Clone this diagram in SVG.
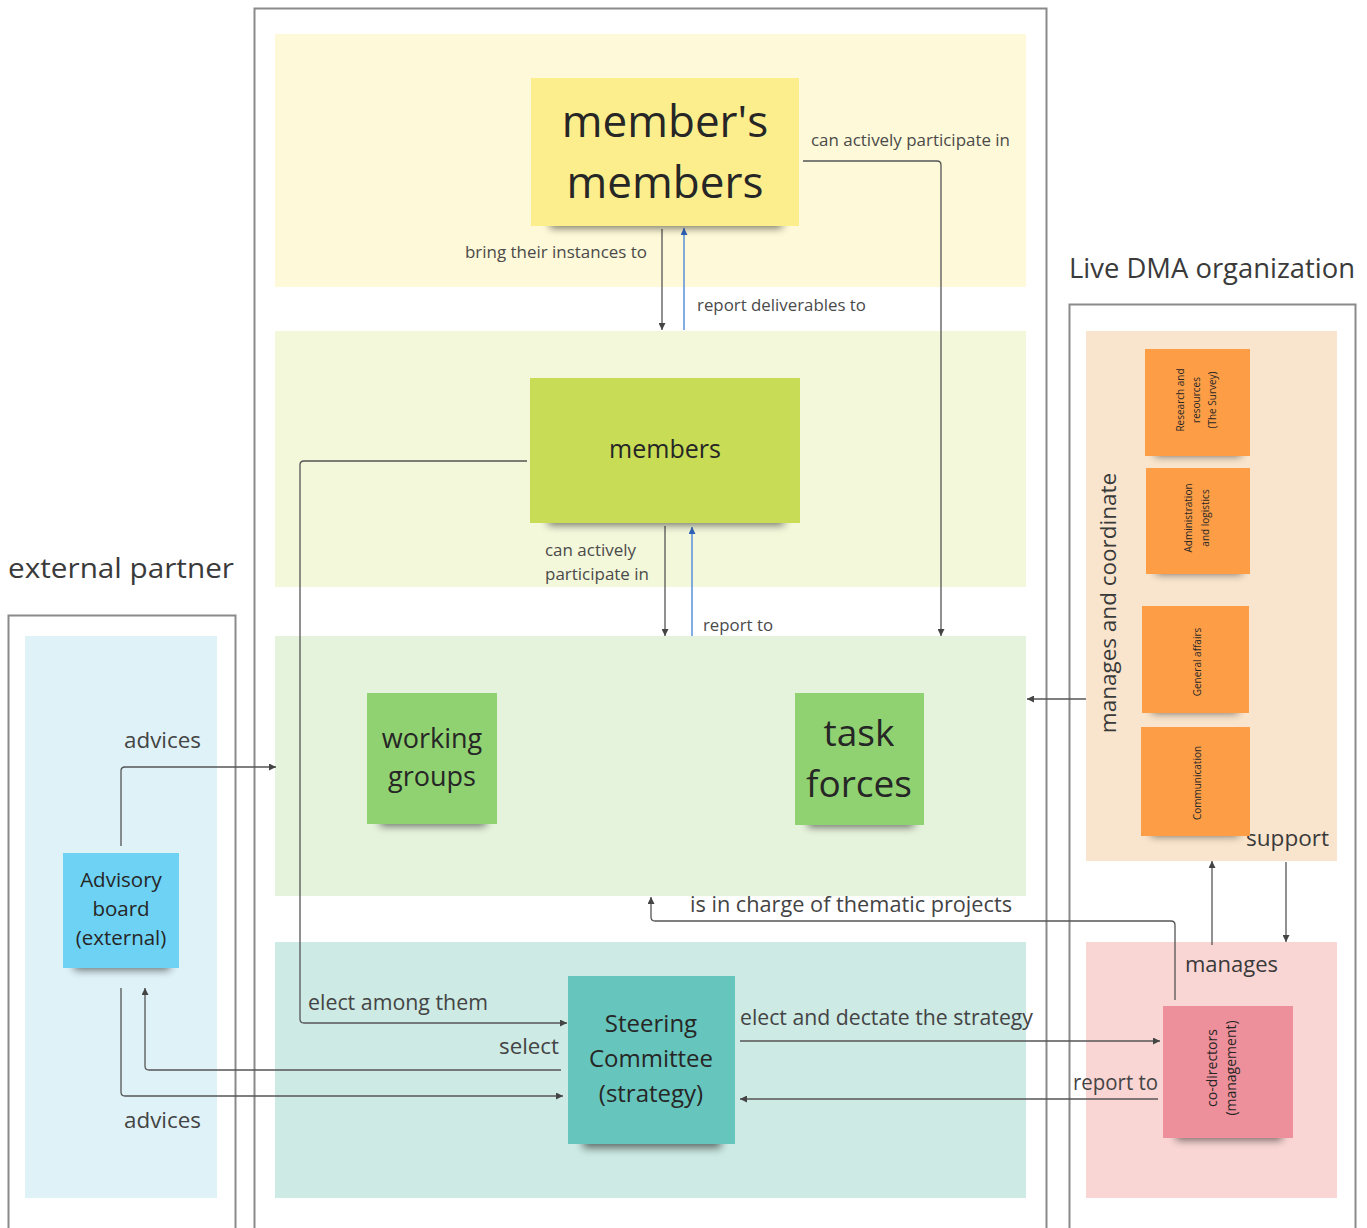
<svg xmlns="http://www.w3.org/2000/svg" width="1367" height="1228" viewBox="0 0 1367 1228">
  <style>
    text { font-family: "Open Sans", "Noto Sans", "DejaVu Sans", sans-serif; fill: #3a3a3a; }
    .frame { fill: none; stroke: #8a8a8a; stroke-width: 2; }
    .conn { fill: none; stroke: #555; stroke-width: 1.3; }
    .blue { fill: none; stroke: #5b8fd8; stroke-width: 1.5; }
    .lbl { font-size: 15.5px; fill: #4a4a4a; }
    .lbl2 { font-size: 21.5px; fill: #444; }
    .sticky-text { fill: #262626; text-anchor: middle; }
    .shadow { fill: #000; opacity: 0.55; filter: url(#blur); }
  </style>
  <defs>
    <filter id="blur" x="-20%" y="-100%" width="140%" height="300%">
      <feGaussianBlur stdDeviation="4"/>
    </filter>
    <marker id="arr" viewBox="0 0 10 10" refX="10" refY="5" markerWidth="7" markerHeight="7" markerUnits="userSpaceOnUse" orient="auto">
      <path d="M0,0 L10,5 L0,10 z" fill="#444"/>
    </marker>
    <marker id="arrb" viewBox="0 0 10 10" refX="10" refY="5" markerWidth="7" markerHeight="7" markerUnits="userSpaceOnUse" orient="auto">
      <path d="M0,0 L10,5 L0,10 z" fill="#2f63b8"/>
    </marker>
  </defs>

  <rect width="1367" height="1228" fill="#ffffff"/>

  <!-- frames -->
  <g id="frames">
    <rect class="frame" x="254.5" y="8.5" width="792" height="1260"/>
    <rect class="frame" x="8.5" y="615.5" width="227" height="700"/>
    <rect class="frame" x="1069.5" y="304.5" width="286" height="1000"/>
  </g>

  <!-- background bands -->
  <g id="bands">
    <rect x="275" y="34" width="751" height="253" fill="#fef9d8"/>
    <rect x="275" y="331" width="751" height="256" fill="#f3f8db"/>
    <rect x="275" y="636" width="751" height="260" fill="#e6f3dc"/>
    <rect x="275" y="942" width="751" height="256" fill="#cdeae4"/>
    <rect x="25" y="636" width="192" height="562" fill="#dff2f8"/>
    <rect x="1086" y="331" width="251" height="530" fill="#f9e5cd"/>
    <rect x="1086" y="942" width="251" height="256" fill="#f9d6d4"/>
  </g>

  <!-- frame titles -->
  <text x="8" y="578" font-size="28" textLength="226" lengthAdjust="spacingAndGlyphs" fill="#3a3a3a">external partner</text>
  <text x="1069" y="278" font-size="27" textLength="286" lengthAdjust="spacingAndGlyphs" fill="#3a3a3a">Live DMA organization</text>
  <text transform="translate(1116,603) rotate(-90)" font-size="22.5" text-anchor="middle" fill="#444">manages and coordinate</text>
  <text x="1246" y="846" font-size="21.5" textLength="83" lengthAdjust="spacingAndGlyphs" fill="#444">support</text>
  <text x="1185" y="972" font-size="22" fill="#444">manages</text>

  <!-- connectors -->
  <g id="connectors">
    <path class="conn" d="M803,161 H937 Q941,161 941,165 V636" marker-end="url(#arr)"/>
    <path class="conn" d="M662,229 V330" marker-end="url(#arr)"/>
    <path class="blue" d="M684,330 V228" marker-end="url(#arrb)"/>
    <path class="conn" d="M665,526 V636" marker-end="url(#arr)"/>
    <path class="blue" d="M692,636 V527" marker-end="url(#arrb)"/>
    <path class="conn" d="M527,461 H304 Q300,461 300,465 V1019 Q300,1023 304,1023 H567" marker-end="url(#arr)"/>
    <path class="conn" d="M121,846 V771 Q121,767 125,767 H276" marker-end="url(#arr)"/>
    <path class="conn" d="M121,988 V1092 Q121,1096 125,1096 H563" marker-end="url(#arr)"/>
    <path class="conn" d="M561,1070 H149 Q145,1070 145,1066 V988" marker-end="url(#arr)"/>
    <path class="conn" d="M740,1041 H1160" marker-end="url(#arr)"/>
    <path class="conn" d="M1158,1099 H740" marker-end="url(#arr)"/>
    <path class="conn" d="M1175,1000 V925 Q1175,921 1171,921 H655 Q651,921 651,917 V897" marker-end="url(#arr)"/>
    <path class="conn" d="M1086,699 H1027" marker-end="url(#arr)"/>
    <path class="conn" d="M1212,945 V861" marker-end="url(#arr)"/>
    <path class="conn" d="M1286,862 V942" marker-end="url(#arr)"/>
  </g>

  <!-- connector labels -->
  <g id="labels">
    <text class="lbl" x="811" y="146" textLength="199" lengthAdjust="spacingAndGlyphs">can actively participate in</text>
    <text class="lbl" x="465" y="258" textLength="182" lengthAdjust="spacingAndGlyphs">bring their instances to</text>
    <text class="lbl" x="697" y="311" textLength="169" lengthAdjust="spacingAndGlyphs">report deliverables to</text>
    <text class="lbl" x="545" y="556" textLength="91" lengthAdjust="spacingAndGlyphs">can actively</text>
    <text class="lbl" x="545" y="580" textLength="104" lengthAdjust="spacingAndGlyphs">participate in</text>
    <text class="lbl" x="703" y="631" textLength="70" lengthAdjust="spacingAndGlyphs">report to</text>
    <text class="lbl2" x="124" y="748" textLength="77" lengthAdjust="spacingAndGlyphs">advices</text>
    <text class="lbl2" x="124" y="1128" textLength="77" lengthAdjust="spacingAndGlyphs">advices</text>
    <text class="lbl2" x="690" y="912" textLength="322" lengthAdjust="spacingAndGlyphs">is in charge of thematic projects</text>
    <text class="lbl2" x="308" y="1010" textLength="180" lengthAdjust="spacingAndGlyphs">elect among them</text>
    <text class="lbl2" x="499" y="1054" textLength="60" lengthAdjust="spacingAndGlyphs">select</text>
    <text class="lbl2" x="740" y="1025" textLength="293" lengthAdjust="spacingAndGlyphs">elect and dectate the strategy</text>
    <text class="lbl2" x="1073" y="1090" textLength="85" lengthAdjust="spacingAndGlyphs">report to</text>
  </g>

  <!-- sticky notes -->
  <g id="members-members">
    <rect class="shadow" x="550" y="214" width="232" height="14"/>
    <rect x="531" y="78" width="268" height="148" fill="#fcee8c"/>
    <text class="sticky-text" x="665" y="137" font-size="44" fill="#3b3b22">member's</text>
    <text class="sticky-text" x="665" y="198" font-size="44" fill="#3b3b22">members</text>
  </g>

  <g id="members">
    <rect class="shadow" x="548" y="511" width="236" height="14"/>
    <rect x="530" y="378" width="270" height="145" fill="#c8dc55"/>
    <text class="sticky-text" x="665" y="458" font-size="25">members</text>
  </g>

  <g id="working-groups">
    <rect class="shadow" x="380" y="812" width="106" height="14"/>
    <rect x="367" y="693" width="130" height="131" fill="#90d271"/>
    <text class="sticky-text" x="432" y="748" font-size="27">working</text>
    <text class="sticky-text" x="432" y="786" font-size="27">groups</text>
  </g>

  <g id="task-forces">
    <rect class="shadow" x="808" y="813" width="106" height="14"/>
    <rect x="795" y="693" width="129" height="132" fill="#90d271"/>
    <text class="sticky-text" x="859" y="746" font-size="37">task</text>
    <text class="sticky-text" x="859" y="797" font-size="37">forces</text>
  </g>

  <g id="advisory-board">
    <rect class="shadow" x="74" y="956" width="96" height="14"/>
    <rect x="63" y="853" width="116" height="115" fill="#6dd2f4"/>
    <text class="sticky-text" x="121" y="887" font-size="20.5" fill="#2d3b44">Advisory</text>
    <text class="sticky-text" x="121" y="916" font-size="20.5" fill="#2d3b44">board</text>
    <text class="sticky-text" x="121" y="945" font-size="20.5" fill="#2d3b44">(external)</text>
  </g>

  <g id="steering-committee">
    <rect class="shadow" x="583" y="1132" width="138" height="16"/>
    <rect x="568" y="976" width="167" height="168" fill="#66c5bc"/>
    <text class="sticky-text" x="651" y="1032" font-size="24" fill="#263a38">Steering</text>
    <text class="sticky-text" x="651" y="1067" font-size="24" fill="#263a38">Committee</text>
    <text class="sticky-text" x="651" y="1102" font-size="24" fill="#263a38">(strategy)</text>
  </g>

  <g id="co-directors">
    <rect class="shadow" x="1176" y="1126" width="106" height="14"/>
    <rect x="1163" y="1006" width="130" height="132" fill="#ee909b"/>
    <text class="sticky-text" transform="translate(1217,1068) rotate(-90)" font-size="14">co-directors</text>
    <text class="sticky-text" transform="translate(1236,1068) rotate(-90)" font-size="14">(management)</text>
  </g>

  <g id="research">
    <rect class="shadow" x="1155" y="444" width="86" height="12"/>
    <rect x="1145" y="349" width="105" height="107" fill="#fd9e47"/>
    <text class="sticky-text" transform="translate(1184,400) rotate(-90)" font-size="10" fill="#1a1a1a">Research and</text>
    <text class="sticky-text" transform="translate(1200,400) rotate(-90)" font-size="10" fill="#1a1a1a">resources</text>
    <text class="sticky-text" transform="translate(1216,400) rotate(-90)" font-size="10" fill="#1a1a1a">(The Survey)</text>
  </g>

  <g id="admin">
    <rect class="shadow" x="1156" y="562" width="86" height="12"/>
    <rect x="1146" y="468" width="104" height="106" fill="#fd9e47"/>
    <text class="sticky-text" transform="translate(1192,518) rotate(-90)" font-size="10" fill="#1a1a1a">Administration</text>
    <text class="sticky-text" transform="translate(1209,518) rotate(-90)" font-size="10" fill="#1a1a1a">and logistics</text>
  </g>

  <g id="general-affairs">
    <rect class="shadow" x="1152" y="701" width="86" height="12"/>
    <rect x="1142" y="606" width="107" height="107" fill="#fd9e47"/>
    <text class="sticky-text" transform="translate(1201,662) rotate(-90)" font-size="10" fill="#1a1a1a">General affairs</text>
  </g>

  <g id="communication">
    <rect class="shadow" x="1151" y="824" width="88" height="12"/>
    <rect x="1141" y="727" width="109" height="109" fill="#fd9e47"/>
    <text class="sticky-text" transform="translate(1201,783) rotate(-90)" font-size="10" fill="#1a1a1a">Communication</text>
  </g>
</svg>
